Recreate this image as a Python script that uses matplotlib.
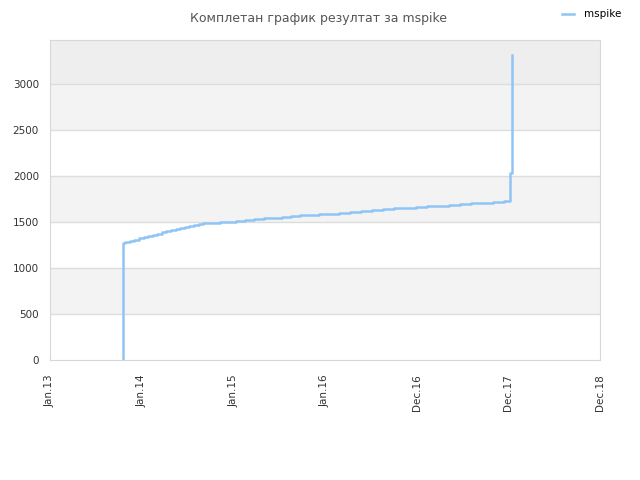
import matplotlib
matplotlib.use("Agg")
import matplotlib.pyplot as plt

# years since Jan.13
x_years = [0.795, 0.795, 0.80, 0.82, 0.87, 0.92, 0.97, 1.02, 1.07, 1.12, 1.17, 1.22,
           1.27, 1.32, 1.37, 1.42, 1.47, 1.52, 1.57, 1.62, 1.67, 1.76, 1.85, 1.94,
           2.03, 2.13, 2.23, 2.33, 2.43, 2.53, 2.63, 2.73, 2.83, 2.93, 3.03, 3.15,
           3.27, 3.39, 3.51, 3.63, 3.75, 3.87, 3.99, 4.11, 4.23, 4.35, 4.47, 4.59,
           4.71, 4.83, 4.95, 5.02, 5.02, 5.04, 5.04]
scores = [0, 1250, 1270, 1285, 1297, 1310, 1322, 1335, 1348, 1361, 1374, 1387,
          1400, 1412, 1424, 1436, 1448, 1460, 1470, 1478, 1485, 1492, 1499, 1506,
          1513, 1522, 1531, 1540, 1549, 1557, 1565, 1572, 1579, 1586, 1592, 1601,
          1611, 1621, 1630, 1639, 1648, 1656, 1664, 1672, 1680, 1688, 1696, 1703,
          1710, 1717, 1724, 1732, 2033, 2033, 3315]

tick_pos = [0, 1, 2, 3, 4, 5, 6]
tick_labels = ["Jan.13", "Jan.14", "Jan.15", "Jan.16", "Dec.16", "Dec.17", "Dec.18"]
y_ticks = [0, 500, 1000, 1500, 2000, 2500, 3000]

fig = plt.figure(figsize=(6.4, 4.8), dpi=100)
ax = fig.add_axes([50 / 640, 1 - 360 / 480, 550 / 640, 320 / 480])

ymax = 3480
# alternating bands
for i, lo in enumerate(y_ticks):
    hi = lo + 500 if lo < 3000 else ymax
    if lo == 3000:
        c = "#eeeeee"
    elif i % 2 == 1:
        c = "#f3f3f3"
    else:
        c = "#ffffff"
    ax.axhspan(lo, hi, color=c, zorder=0, lw=0)
for y in y_ticks[1:]:
    ax.axhline(y, color="#dddddd", lw=1, zorder=1)

ax.plot(x_years, scores, drawstyle="steps-post", color="#90c4f5", lw=1.8,
        label="mspike", zorder=3)

ax.set_xlim(0, 6)
ax.set_ylim(0, ymax)
ax.set_xticks(tick_pos)
ax.set_xticklabels(tick_labels, rotation=90, fontsize=7.5, color="#333333")
ax.set_yticks(y_ticks)
ax.set_yticklabels([str(v) for v in y_ticks], fontsize=7.5, color="#333333")
ax.tick_params(axis="y", length=0, pad=8)
ax.tick_params(axis="x", length=0, pad=10)
for s in ax.spines.values():
    s.set_color("#d8d8d8")

fig.text(0.497, 0.975, "Комплетан график резултат за mspike", ha="center", va="top",
         fontsize=9, color="#555555")
fig.legend(loc="upper right", bbox_to_anchor=(0.985, 1.0), frameon=False,
           fontsize=7.5, handlelength=1.2, handletextpad=0.9)

fig.savefig("out.png", dpi=100)
